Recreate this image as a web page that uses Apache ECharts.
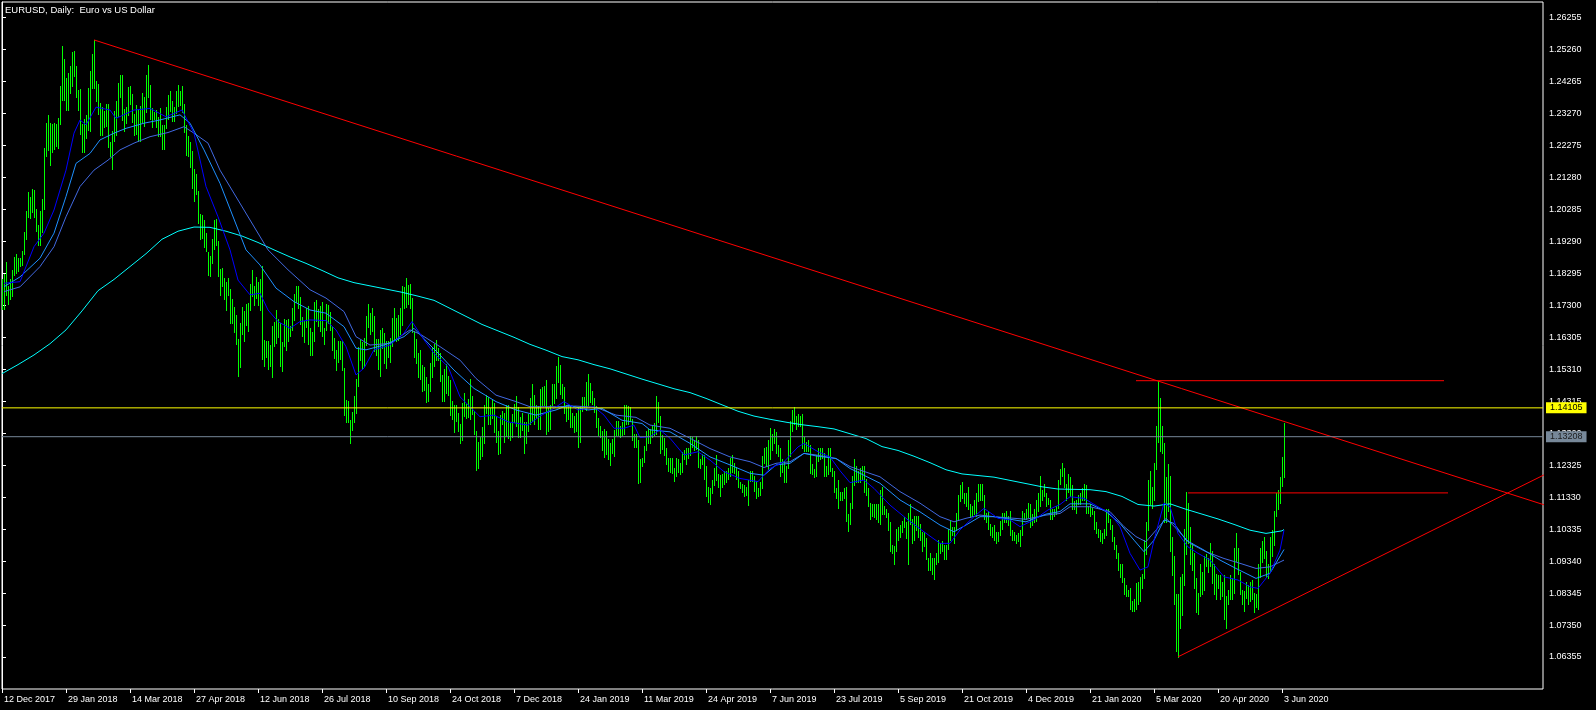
<!DOCTYPE html>
<html><head><meta charset="utf-8">
<script src="https://cdn.jsdelivr.net/npm/echarts@6/dist/echarts.min.js"></script>
<style>html,body{margin:0;padding:0;background:#000;}#c{width:1596px;height:710px;}</style>
</head><body><div id="c"></div>
<script>
// ---- data (daily bars, index 0 = 12 Dec 2017) ----
const xLabels = ['12 Dec 2017','29 Jan 2018','14 Mar 2018','27 Apr 2018','12 Jun 2018','26 Jul 2018','10 Sep 2018','24 Oct 2018','7 Dec 2018','24 Jan 2019','11 Mar 2019','24 Apr 2019','7 Jun 2019','23 Jul 2019','5 Sep 2019','21 Oct 2019','4 Dec 2019','21 Jan 2020','5 Mar 2020','20 Apr 2020','3 Jun 2020'];
const xLabelBars = [0,32,64,96,128,160,192,224,256,288,320,352,384,416,448,480,512,544,576,608,640];
const yTicks = [1.06355,1.07350,1.08345,1.09340,1.10335,1.11330,1.12325,1.13320,1.14315,1.15310,1.16305,1.17300,1.18295,1.19290,1.20285,1.21280,1.22275,1.23270,1.24265,1.25260,1.26255];

const highs = [
1.1810,1.1827,1.1863,1.1791,1.1812,1.1840,1.1880,1.1888,1.1878,1.1876,
1.1900,1.1957,1.2023,1.2081,1.2065,1.2090,1.2089,1.2030,1.1979,1.2023,
1.2059,1.2218,1.2297,1.2323,1.2297,1.2295,1.2297,1.2292,1.2312,1.2413,
1.2537,1.2495,1.2436,1.2452,1.2475,1.2519,1.2522,1.2474,1.2400,1.2403,
1.2295,1.2308,1.2322,1.2406,1.2459,1.2510,1.2556,1.2426,1.2418,1.2360,
1.2345,1.2334,1.2355,1.2355,1.2239,1.2272,1.2335,1.2365,1.2421,1.2446,
1.2446,1.2340,1.2345,1.2410,1.2413,1.2388,1.2325,1.2354,1.2340,1.2348,
1.2389,1.2376,1.2445,1.2476,1.2415,1.2343,1.2330,1.2336,1.2315,1.2344,
1.2290,1.2290,1.2345,1.2384,1.2396,1.2364,1.2346,1.2397,1.2414,1.2395,
1.2412,1.2355,1.2290,1.2256,1.2238,1.2211,1.2155,1.2138,1.2085,1.2013,
1.2010,1.1996,1.1955,1.1896,1.1883,1.1935,1.1995,1.1997,1.1930,1.1841,
1.1846,1.1815,1.1802,1.1814,1.1781,1.1749,1.1723,1.1698,1.1624,1.1675,
1.1724,1.1711,1.1734,1.1736,1.1797,1.1840,1.1791,1.1819,1.1802,1.1810,
1.1852,1.1623,1.1620,1.1620,1.1606,1.1666,1.1679,1.1716,1.1687,1.1674,
1.1616,1.1688,1.1684,1.1688,1.1666,1.1721,1.1764,1.1790,1.1790,1.1755,
1.1693,1.1680,1.1720,1.1728,1.1660,1.1647,1.1740,1.1745,1.1718,1.1727,
1.1739,1.1660,1.1733,1.1730,1.1710,1.1663,1.1628,1.1590,1.1620,1.1619,
1.1618,1.1534,1.1435,1.1431,1.1373,1.1397,1.1446,1.1500,1.1600,1.1622,
1.1614,1.1628,1.1697,1.1733,1.1707,1.1720,1.1695,1.1625,1.1625,1.1652,
1.1658,1.1644,1.1618,1.1620,1.1627,1.1690,1.1722,1.1690,1.1699,1.1721,
1.1790,1.1788,1.1815,1.1793,1.1797,1.1751,1.1651,1.1625,1.1580,1.1590,
1.1544,1.1539,1.1505,1.1486,1.1549,1.1598,1.1610,1.1621,1.1596,1.1580,
1.1513,1.1531,1.1548,1.1510,1.1496,1.1433,1.1420,1.1420,1.1395,1.1360,
1.1425,1.1456,1.1422,1.1439,1.1500,1.1448,1.1400,1.1339,1.1305,1.1320,
1.1350,1.1418,1.1450,1.1445,1.1409,1.1436,1.1425,1.1385,1.1340,1.1388,
1.1400,1.1395,1.1419,1.1420,1.1362,1.1390,1.1423,1.1446,1.1412,1.1383,
1.1395,1.1365,1.1365,1.1390,1.1440,1.1486,1.1450,1.1420,1.1415,1.1470,
1.1475,1.1480,1.1497,1.1410,1.1420,1.1485,1.1485,1.1542,1.1570,1.1545,
1.1485,1.1475,1.1420,1.1420,1.1420,1.1395,1.1385,1.1395,1.1410,1.1415,
1.1445,1.1445,1.1490,1.1515,1.1488,1.1462,1.1440,1.1417,1.1379,1.1354,
1.1338,1.1346,1.1340,1.1315,1.1300,1.1314,1.1343,1.1369,1.1370,1.1355,
1.1366,1.1420,1.1420,1.1417,1.1413,1.1375,1.1330,1.1330,1.1310,1.1250,
1.1255,1.1292,1.1338,1.1345,1.1345,1.1355,1.1362,1.1448,1.1428,1.1385,
1.1325,1.1317,1.1287,1.1255,1.1256,1.1255,1.1223,1.1255,1.1250,1.1240,
1.1272,1.1280,1.1287,1.1285,1.1324,1.1320,1.1311,1.1323,1.1310,1.1250,
1.1268,1.1265,1.1230,1.1165,1.1160,1.1187,1.1225,1.1265,1.1205,1.1202,
1.1205,1.1215,1.1215,1.1225,1.1255,1.1265,1.1240,1.1227,1.1213,1.1180,
1.1175,1.1170,1.1165,1.1185,1.1215,1.1215,1.1200,1.1182,1.1162,1.1180,
1.1260,1.1285,1.1290,1.1310,1.1348,1.1330,1.1345,1.1335,1.1295,1.1285,
1.1250,1.1245,1.1230,1.1310,1.1370,1.1405,1.1412,1.1385,1.1390,1.1385,
1.1390,1.1320,1.1305,1.1310,1.1295,1.1235,1.1220,1.1265,1.1285,1.1285,
1.1285,1.1270,1.1230,1.1285,1.1285,1.1225,1.1215,1.1160,1.1185,1.1150,
1.1150,1.1160,1.1165,1.1080,1.1115,1.1200,1.1250,1.1230,1.1215,1.1225,
1.1230,1.1230,1.1190,1.1160,1.1115,1.1110,1.1110,1.1110,1.1110,1.1155,
1.1165,1.1105,1.1095,1.1085,1.1055,1.0985,1.0980,1.1035,1.1040,1.1045,
1.1060,1.1070,1.1055,1.1085,1.1110,1.1065,1.1075,1.1075,1.1075,1.1050,
1.1025,1.1025,1.1005,1.0945,1.0960,1.0945,1.0945,1.0960,1.0999,1.0990,
1.0995,1.0985,1.0985,1.1035,1.1060,1.1040,1.1040,1.1085,1.1140,1.1170,
1.1180,1.1145,1.1145,1.1165,1.1110,1.1105,1.1125,1.1145,1.1175,1.1175,
1.1175,1.1140,1.1085,1.1090,1.1050,1.1040,1.1045,1.1025,1.1025,1.1060,
1.1085,1.1085,1.1090,1.1075,1.1090,1.1030,1.1025,1.1015,1.1020,1.1030,
1.1090,1.1085,1.1095,1.1115,1.1110,1.1080,1.1095,1.1125,1.1145,1.1200,
1.1155,1.1175,1.1145,1.1130,1.1125,1.1095,1.1095,1.1105,1.1185,1.1220,
1.1240,1.1225,1.1175,1.1205,1.1195,1.1170,1.1120,1.1125,1.1140,1.1145,
1.1160,1.1175,1.1170,1.1105,1.1110,1.1100,1.1090,1.1055,1.1035,1.1030,
1.1020,1.1035,1.1095,1.1095,1.1065,1.1045,1.1010,1.0985,1.0960,1.0925,
1.0925,1.0880,1.0860,1.0845,1.0850,1.0810,1.0815,1.0865,1.0870,1.0885,
1.0895,1.1000,1.1055,1.1185,1.1215,1.1165,1.1240,1.1355,1.1495,1.1440,
1.1355,1.1300,1.1195,1.1235,1.1200,1.1010,1.0950,1.0830,1.0830,1.0885,
1.0895,1.1035,1.1148,1.1115,1.1040,1.0990,1.0960,1.0880,1.0835,1.0925,
1.0900,1.0950,1.0955,1.0945,1.0990,1.0965,1.0925,1.0895,1.0890,1.0890,
1.0870,1.0890,1.0825,1.0845,1.0890,1.0880,1.0975,1.1020,1.0975,1.0900,
1.0845,1.0840,1.0870,1.0860,1.0870,1.0875,1.0835,1.0830,1.0925,1.0975,
1.0995,1.1010,1.0965,1.0925,1.1010,1.1030,1.1090,1.1145,1.1155,1.1195,
1.1258,1.1364];

const lows = [
1.1718,1.1718,1.1762,1.1735,1.1748,1.1760,1.1823,1.1830,1.1836,1.1851,
1.1856,1.1888,1.1935,1.2004,1.2001,1.2019,1.2004,1.1960,1.1916,1.1918,
1.1957,1.2028,1.2193,1.2212,1.2166,1.2205,1.2216,1.2224,1.2220,1.2295,
1.2368,1.2367,1.2336,1.2336,1.2391,1.2413,1.2443,1.2378,1.2336,1.2262,
1.2205,1.2206,1.2250,1.2275,1.2273,1.2407,1.2404,1.2365,1.2324,1.2260,
1.2260,1.2283,1.2286,1.2223,1.2193,1.2155,1.2240,1.2260,1.2318,1.2379,
1.2305,1.2273,1.2297,1.2320,1.2356,1.2300,1.2258,1.2261,1.2240,1.2240,
1.2300,1.2287,1.2332,1.2378,1.2310,1.2283,1.2310,1.2285,1.2255,1.2256,
1.2216,1.2215,1.2282,1.2310,1.2334,1.2302,1.2302,1.2328,1.2350,1.2352,
1.2332,1.2270,1.2196,1.2195,1.2161,1.2095,1.2055,1.2075,1.1985,1.1937,
1.1940,1.1910,1.1900,1.1824,1.1821,1.1860,1.1905,1.1917,1.1820,1.1763,
1.1790,1.1749,1.1716,1.1762,1.1676,1.1675,1.1645,1.1608,1.1510,1.1539,
1.1640,1.1617,1.1668,1.1650,1.1716,1.1760,1.1729,1.1752,1.1730,1.1715,
1.1562,1.1541,1.1570,1.1530,1.1540,1.1508,1.1603,1.1612,1.1631,1.1542,
1.1526,1.1603,1.1590,1.1617,1.1633,1.1654,1.1683,1.1740,1.1720,1.1670,
1.1635,1.1615,1.1662,1.1610,1.1575,1.1576,1.1620,1.1680,1.1665,1.1650,
1.1635,1.1610,1.1653,1.1675,1.1652,1.1590,1.1565,1.1529,1.1553,1.1562,
1.1529,1.1388,1.1365,1.1365,1.1301,1.1341,1.1366,1.1395,1.1480,1.1560,
1.1530,1.1540,1.1605,1.1661,1.1640,1.1650,1.1587,1.1576,1.1530,1.1510,
1.1597,1.1550,1.1535,1.1570,1.1552,1.1603,1.1621,1.1620,1.1623,1.1640,
1.1669,1.1722,1.1723,1.1733,1.1720,1.1646,1.1570,1.1550,1.1505,1.1500,
1.1463,1.1465,1.1430,1.1432,1.1462,1.1506,1.1540,1.1560,1.1560,1.1495,
1.1432,1.1433,1.1457,1.1452,1.1389,1.1375,1.1335,1.1370,1.1337,1.1300,
1.1310,1.1385,1.1380,1.1383,1.1375,1.1390,1.1330,1.1216,1.1225,1.1250,
1.1260,1.1300,1.1395,1.1360,1.1360,1.1380,1.1335,1.1305,1.1267,1.1270,
1.1360,1.1305,1.1322,1.1317,1.1310,1.1320,1.1368,1.1353,1.1320,1.1320,
1.1342,1.1270,1.1300,1.1340,1.1360,1.1370,1.1360,1.1380,1.1345,1.1345,
1.1420,1.1420,1.1330,1.1340,1.1345,1.1420,1.1425,1.1440,1.1490,1.1455,
1.1440,1.1395,1.1370,1.1375,1.1350,1.1350,1.1335,1.1340,1.1290,1.1305,
1.1400,1.1410,1.1405,1.1420,1.1430,1.1422,1.1398,1.1352,1.1325,1.1319,
1.1278,1.1257,1.1266,1.1250,1.1234,1.1270,1.1260,1.1325,1.1325,1.1319,
1.1327,1.1330,1.1360,1.1360,1.1370,1.1310,1.1288,1.1290,1.1176,1.1180,
1.1230,1.1242,1.1280,1.1300,1.1300,1.1320,1.1325,1.1330,1.1365,1.1270,
1.1284,1.1265,1.1237,1.1215,1.1212,1.1207,1.1184,1.1200,1.1212,1.1205,
1.1210,1.1250,1.1236,1.1255,1.1265,1.1290,1.1280,1.1283,1.1226,1.1225,
1.1235,1.1190,1.1135,1.1118,1.1110,1.1145,1.1170,1.1185,1.1165,1.1135,
1.1165,1.1175,1.1180,1.1190,1.1200,1.1210,1.1208,1.1190,1.1165,1.1160,
1.1150,1.1135,1.1140,1.1107,1.1183,1.1182,1.1152,1.1130,1.1135,1.1140,
1.1160,1.1240,1.1230,1.1220,1.1250,1.1280,1.1300,1.1270,1.1260,1.1200,
1.1210,1.1180,1.1180,1.1225,1.1260,1.1340,1.1360,1.1345,1.1355,1.1355,
1.1285,1.1275,1.1275,1.1275,1.1207,1.1205,1.1195,1.1200,1.1245,1.1250,
1.1255,1.1200,1.1200,1.1205,1.1215,1.1200,1.1150,1.1130,1.1100,1.1125,
1.1125,1.1130,1.1060,1.1027,1.1050,1.1100,1.1170,1.1180,1.1180,1.1180,
1.1190,1.1150,1.1140,1.1105,1.1065,1.1075,1.1070,1.1065,1.1055,1.1050,
1.1080,1.1080,1.1070,1.1030,1.0965,1.0960,1.0926,1.0965,1.1000,1.1010,
1.1025,1.1040,1.1005,1.0925,1.1050,1.0990,1.1000,1.1030,1.1010,1.1000,
1.0965,1.0980,1.0940,1.0905,1.0905,1.0895,1.0879,1.0925,1.0930,1.0960,
1.0965,1.0940,1.0940,1.0970,1.1000,1.1015,1.0990,1.1030,1.1065,1.1120,
1.1130,1.1115,1.1105,1.1095,1.1070,1.1075,1.1080,1.1075,1.1120,1.1125,
1.1125,1.1065,1.1055,1.1035,1.1015,1.1010,1.1000,1.0990,1.0995,1.1015,
1.1035,1.1055,1.1055,1.1045,1.1015,1.1000,1.1000,1.0990,1.0995,1.0981,
1.1015,1.1065,1.1065,1.1070,1.1040,1.1045,1.1055,1.1060,1.1090,1.1105,
1.1125,1.1135,1.1105,1.1110,1.1065,1.1065,1.1075,1.1080,1.1100,1.1175,
1.1200,1.1165,1.1125,1.1150,1.1135,1.1095,1.1095,1.1085,1.1110,1.1110,
1.1125,1.1125,1.1085,1.1085,1.1075,1.1080,1.1035,1.1020,1.1010,1.0995,
1.0990,1.1005,1.1015,1.1055,1.1035,1.0995,1.0970,1.0945,1.0905,1.0885,
1.0870,1.0830,1.0825,1.0825,1.0785,1.0780,1.0778,1.0785,1.0800,1.0810,
1.0850,1.0880,1.0955,1.1030,1.1110,1.1100,1.1125,1.1220,1.1305,1.1275,
1.1270,1.1055,1.1055,1.1090,1.0965,1.0890,1.0800,1.0654,1.0636,1.0725,
1.0765,1.0860,1.0955,1.0990,1.0925,1.0905,1.0850,1.0775,1.0770,1.0825,
1.0830,1.0845,1.0920,1.0900,1.0920,1.0865,1.0830,1.0815,1.0850,1.0815,
1.0825,1.0755,1.0725,1.0800,1.0815,1.0815,1.0835,1.0935,1.0895,1.0830,
1.0800,1.0780,1.0820,1.0800,1.0810,1.0815,1.0775,1.0790,1.0785,1.0885,
1.0930,1.0945,1.0885,1.0880,1.0900,1.0950,1.0985,1.1075,1.1095,1.1115,
1.1166,1.1195];

// moving averages: [bar index, price]
const maFast = [[1,1.1798],[9,1.1803],[16,1.1912],[21,1.1954],[26,1.2026],[32,1.2150],[36,1.2265],[39,1.2306],[42,1.2291],[47,1.2346],[54,1.2337],[57,1.2311],[66,1.2337],[74,1.2342],[82,1.2316],[90,1.2337],[96,1.2265],[102,1.2099],[108,1.2005],[114,1.1902],[118,1.1808],[124,1.1762],[129,1.1767],[133,1.1715],[138,1.1679],[144,1.1658],[149,1.1679],[154,1.1684],[162,1.1682],[167,1.1653],[172,1.1601],[177,1.1513],[181,1.1534],[186,1.1591],[194,1.1606],[201,1.1643],[205,1.1679],[211,1.1622],[216,1.1580],[223,1.1539],[229,1.1445],[239,1.1383],[246,1.1388],[253,1.1367],[263,1.1357],[269,1.1385],[276,1.1409],[281,1.1430],[288,1.1404],[296,1.1414],[301,1.1388],[306,1.1347],[311,1.1347],[316,1.1357],[319,1.1318],[324,1.1321],[329,1.1342],[334,1.1316],[341,1.1264],[348,1.1274],[354,1.1248],[361,1.1212],[369,1.1191],[378,1.1181],[384,1.1222],[391,1.1243],[398,1.1289],[401,1.1300],[408,1.1274],[414,1.1258],[419,1.1215],[424,1.1178],[431,1.1186],[436,1.1160],[444,1.1108],[453,1.1062],[461,1.1025],[469,1.0989],[474,1.0989],[479,1.1031],[486,1.1072],[491,1.1098],[498,1.1067],[504,1.1062],[509,1.1041],[516,1.1062],[523,1.1093],[529,1.1110],[534,1.1134],[541,1.1129],[548,1.1103],[554,1.1083],[559,1.1041],[564,1.0958],[569,1.0906],[573,1.0916],[576,1.0999],[581,1.1114],[584,1.1103],[588,1.1020],[593,1.0978],[598,1.0958],[604,1.0937],[611,1.0885],[618,1.0875],[624,1.0854],[628,1.0849],[634,1.0896],[639,1.0968],[641,1.1030]];
const maMid = [[1,1.1787],[9,1.1818],[19,1.1876],[26,1.1954],[32,1.2068],[37,1.2171],[44,1.2202],[49,1.2244],[56,1.2265],[62,1.2280],[71,1.2296],[79,1.2306],[89,1.2322],[94,1.2296],[101,1.2213],[109,1.2109],[122,1.1902],[129,1.1855],[137,1.1783],[146,1.1741],[154,1.1715],[162,1.1705],[171,1.1663],[177,1.1596],[182,1.1591],[191,1.1606],[201,1.1632],[206,1.1658],[214,1.1606],[219,1.1575],[226,1.1528],[236,1.1471],[247,1.1430],[257,1.1404],[267,1.1388],[277,1.1404],[283,1.1419],[293,1.1404],[300,1.1409],[310,1.1372],[320,1.1362],[324,1.1342],[334,1.1336],[344,1.1300],[354,1.1258],[364,1.1233],[374,1.1207],[381,1.1201],[387,1.1233],[394,1.1238],[401,1.1269],[407,1.1261],[417,1.1253],[424,1.1222],[429,1.1207],[439,1.1176],[449,1.1124],[459,1.1087],[469,1.1046],[476,1.1025],[482,1.1046],[489,1.1072],[496,1.1072],[506,1.1062],[512,1.1056],[522,1.1080],[529,1.1088],[534,1.1112],[544,1.1112],[552,1.1088],[559,1.1051],[566,1.0999],[571,1.0963],[576,1.0999],[581,1.1062],[586,1.1051],[592,1.0999],[601,1.0968],[609,1.0937],[617,1.0911],[627,1.0880],[634,1.0896],[641,1.0970]];
const maSlow = [[1,1.1772],[9,1.1787],[19,1.1850],[26,1.1912],[32,1.2005],[39,1.2099],[46,1.2150],[53,1.2181],[59,1.2213],[66,1.2234],[74,1.2254],[83,1.2267],[91,1.2285],[96,1.2265],[103,1.2234],[109,1.2150],[133,1.1902],[143,1.1840],[154,1.1778],[162,1.1752],[171,1.1710],[177,1.1632],[184,1.1606],[194,1.1611],[204,1.1653],[209,1.1640],[219,1.1601],[229,1.1559],[237,1.1502],[247,1.1450],[257,1.1430],[264,1.1414],[277,1.1414],[287,1.1416],[297,1.1412],[307,1.1388],[317,1.1381],[324,1.1357],[334,1.1347],[344,1.1316],[354,1.1284],[364,1.1258],[374,1.1243],[381,1.1225],[387,1.1238],[394,1.1243],[401,1.1269],[407,1.1264],[417,1.1253],[424,1.1228],[429,1.1217],[439,1.1196],[449,1.1150],[459,1.1114],[469,1.1072],[476,1.1056],[482,1.1067],[489,1.1077],[496,1.1072],[506,1.1067],[512,1.1064],[522,1.1077],[529,1.1082],[534,1.1103],[544,1.1103],[554,1.1088],[561,1.1041],[567,1.1010],[572,1.0994],[577,1.1030],[582,1.1067],[587,1.1036],[594,1.0989],[602,1.0963],[611,1.0942],[619,1.0927],[627,1.0911],[634,1.0916],[641,1.0937]];
const ma200 = [[0,1.1517],[8,1.1545],[16,1.1575],[24,1.1610],[32,1.1653],[40,1.1712],[48,1.1775],[56,1.1810],[64,1.1850],[72,1.1890],[80,1.1935],[88,1.1960],[96,1.1973],[104,1.1972],[112,1.1960],[120,1.1945],[128,1.1925],[136,1.1902],[144,1.1880],[152,1.1860],[160,1.1838],[168,1.1815],[176,1.1800],[184,1.1790],[192,1.1780],[200,1.1770],[208,1.1758],[216,1.1745],[224,1.1720],[232,1.1695],[240,1.1670],[248,1.1650],[256,1.1630],[264,1.1608],[272,1.1590],[280,1.1570],[288,1.1560],[296,1.1545],[304,1.1532],[312,1.1516],[320,1.1500],[328,1.1485],[336,1.1470],[344,1.1458],[352,1.1440],[360,1.1420],[368,1.1400],[376,1.1385],[384,1.1375],[392,1.1366],[400,1.1358],[408,1.1352],[416,1.1345],[424,1.1330],[432,1.1315],[440,1.1290],[448,1.1278],[456,1.1260],[464,1.1240],[472,1.1218],[480,1.1205],[488,1.1200],[496,1.1195],[504,1.1185],[512,1.1175],[520,1.1165],[528,1.1158],[536,1.1157],[544,1.1156],[552,1.1150],[560,1.1135],[568,1.1110],[576,1.1105],[584,1.1112],[592,1.1095],[600,1.1080],[608,1.1065],[616,1.1048],[624,1.1030],[632,1.1020],[640,1.1028],[641,1.1032]];

// drawn objects
const trendDown = [[46,1.2555],[771,1.1109]];
const trendUp = [[588,1.0636],[771,1.1202]];
const levelHigh = [[567,1.1495],[721,1.1495]];
const levelLow = [[593,1.1146],[723,1.1146]];
const askPrice = 1.14105;
const bidPrice = 1.13208;

// ---- chart ----
const FONT = 'Liberation Sans';
const X_MAX = 770.5;
const barData = highs.map((h, i) => [i, lows[i], h]);
const chart = echarts.init(document.getElementById('c'), null, {renderer: 'canvas'});
const lineS = (data, color, z) => ({type: 'line', data, showSymbol: false, symbol: 'none', silent: true, z: z || 3,
  lineStyle: {color, width: 1}, clip: true});
const priceLine = (price, color, textColor) => Object.assign(lineS([[0, price], [X_MAX, price]], color, 6), {
  clip: false,
  endLabel: {show: true, formatter: price.toFixed(5), distance: 3, color: textColor, backgroundColor: color,
    padding: [1, 4, 0, 4], fontSize: 9, fontFamily: FONT, lineHeight: 10, align: 'left', verticalAlign: 'middle'}
});
chart.setOption({
  animation: false,
  backgroundColor: '#000000',
  title: {text: 'EURUSD, Daily:  Euro vs US Dollar', left: 5, top: 5, padding: 0,
    textStyle: {color: '#ffffff', fontSize: 9.5, fontWeight: 'normal', fontFamily: FONT}},
  grid: {left: 2, right: 53, top: 2, bottom: 21, show: true, borderColor: '#ffffff', borderWidth: 1, backgroundColor: '#000000'},
  xAxis: {type: 'value', min: 0, max: X_MAX,
    axisLine: {show: false}, splitLine: {show: false},
    axisTick: {show: true, customValues: xLabelBars, length: 4, lineStyle: {color: '#ffffff'}},
    axisLabel: {customValues: xLabelBars, formatter: v => xLabels[xLabelBars.indexOf(v)] || '',
      color: '#ffffff', fontSize: 9, fontFamily: FONT, align: 'left', margin: 6, padding: [0, 0, 0, 2]}},
  yAxis: {type: 'value', position: 'right', min: 1.0536, max: 1.2673, scale: true, z: 0,
    axisLine: {show: true, lineStyle: {color: '#ffffff'}}, splitLine: {show: false},
    axisTick: {show: true, customValues: yTicks, length: 4, lineStyle: {color: '#ffffff'}},
    axisLabel: {customValues: yTicks, formatter: v => v.toFixed(5), color: '#ffffff', fontSize: 9, fontFamily: FONT, margin: 6}},
  series: [
    {type: 'custom', data: barData, clip: true, silent: true, z: 2,
      renderItem: (params, api) => {
        const lo = api.coord([api.value(0), api.value(1)]);
        const hi = api.coord([api.value(0), api.value(2)]);
        const x = Math.round(lo[0]) + 0.5;
        return {type: 'line', shape: {x1: x, y1: Math.round(hi[1]), x2: x, y2: Math.round(lo[1]) + 1},
          style: {stroke: '#00ff00', lineWidth: 1}};
      }},
    lineS(ma200, '#00ffff'),
    lineS(maSlow, '#4169e1'),
    lineS(maMid, '#1e90ff'),
    lineS(maFast, '#0000ff'),
    lineS(trendDown, '#ff0000', 4),
    lineS(trendUp, '#ff0000', 4),
    lineS(levelHigh, '#ff0000', 4),
    lineS(levelLow, '#ff0000', 4),
    priceLine(askPrice, '#ffff00', '#000000'),
    priceLine(bidPrice, '#778899', '#1c1c1c')
  ]
});
</script>
</body></html>
